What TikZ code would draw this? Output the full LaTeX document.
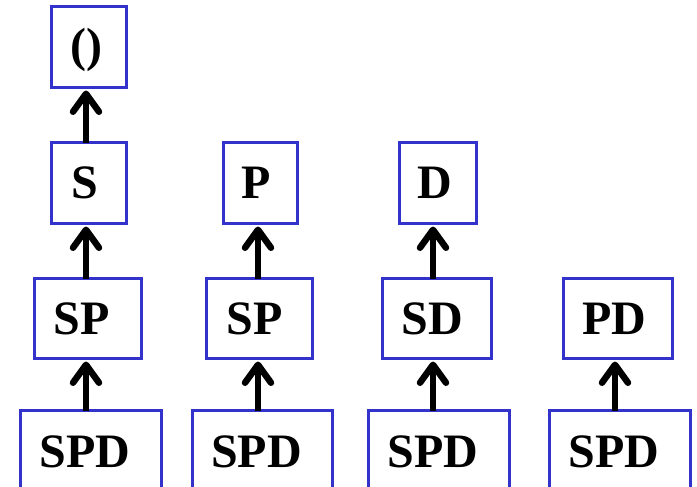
\documentclass[tikz,border=0pt]{standalone}
\usepackage{fontspec}
\setmainfont{Liberation Serif}
\usetikzlibrary{arrows.meta}
\definecolor{boxblue}{RGB}{51,51,204}
\newcommand{\bigfont}{\bfseries\fontsize{48}{48}\selectfont}
\begin{document}
\begin{tikzpicture}[x=1pt,y=-1pt,
  box/.style={draw=boxblue, line width=3.2pt, outer sep=0pt, inner sep=0pt, minimum height=81pt},
  every label/.append style={font=\bigfont, inner sep=0pt},
  arr/.style={line width=6.5pt, -{Straight Barb[length=18pt,width=26pt,round]}}]
\useasboundingbox (0,0) rectangle (697,487);
\clip (0,0) rectangle (697,487);
% column x positions of the arrows
\coordinate (c1) at (86,0);
\coordinate (c2) at (258,0);
\coordinate (c3) at (433,0);
\coordinate (c4) at (615,0);
% top row
\node[box, minimum width=75pt, label={[xshift=-3pt, yshift=-3pt]center:()}] (o) at (89,47) {};
% second row
\node[box, minimum width=75pt, label={[xshift=-4pt]center:S}] (s) at (89,183) {};
\node[box, minimum width=74pt, label={[xshift=-4pt]center:P}] (p) at (260.5,183) {};
\node[box, minimum width=77pt, label={[xshift=-3pt]center:D}] (d) at (438,183) {};
% third row
\node[box, minimum width=107pt, minimum height=80pt, label={[xshift=-6pt]center:SP}] (sp1) at (88,318.5) {};
\node[box, minimum width=106pt, minimum height=80pt, label={[xshift=-5pt]center:SP}] (sp2) at (259.5,318.5) {};
\node[box, minimum width=109pt, minimum height=80pt, label={[xshift=-5pt]center:SD}] (sd) at (437,318.5) {};
\node[box, minimum width=109pt, minimum height=80pt, label={[xshift=-4pt]center:PD}] (pd) at (618,318.5) {};
% bottom row
\node[box, minimum width=141pt, minimum height=80pt, label={[xshift=-6pt, yshift=-1pt]center:SPD}] (spd1) at (91,450.5) {};
\node[box, minimum width=140pt, minimum height=80pt, label={[xshift=-6pt, yshift=-1pt]center:SPD}] (spd2) at (262.5,450.5) {};
\node[box, minimum width=141pt, minimum height=80pt, label={[xshift=-6pt, yshift=-1pt]center:SPD}] (spd3) at (439,450.5) {};
\node[box, minimum width=141pt, minimum height=80pt, label={[xshift=-6pt, yshift=-1pt]center:SPD}] (spd4) at (620,450.5) {};
% arrows
\draw[arr] (c1 |- s.north) -- ([yshift=-3pt]c1 |- o.south);
\draw[arr] (c1 |- sp1.north) -- ([yshift=-3pt]c1 |- s.south);
\draw[arr] (c1 |- spd1.north) -- ([yshift=-3pt]c1 |- sp1.south);
\draw[arr] (c2 |- sp2.north) -- ([yshift=-3pt]c2 |- p.south);
\draw[arr] (c2 |- spd2.north) -- ([yshift=-3pt]c2 |- sp2.south);
\draw[arr] (c3 |- sd.north) -- ([yshift=-3pt]c3 |- d.south);
\draw[arr] (c3 |- spd3.north) -- ([yshift=-3pt]c3 |- sd.south);
\draw[arr] (c4 |- spd4.north) -- ([yshift=-3pt]c4 |- pd.south);
\end{tikzpicture}
\end{document}
